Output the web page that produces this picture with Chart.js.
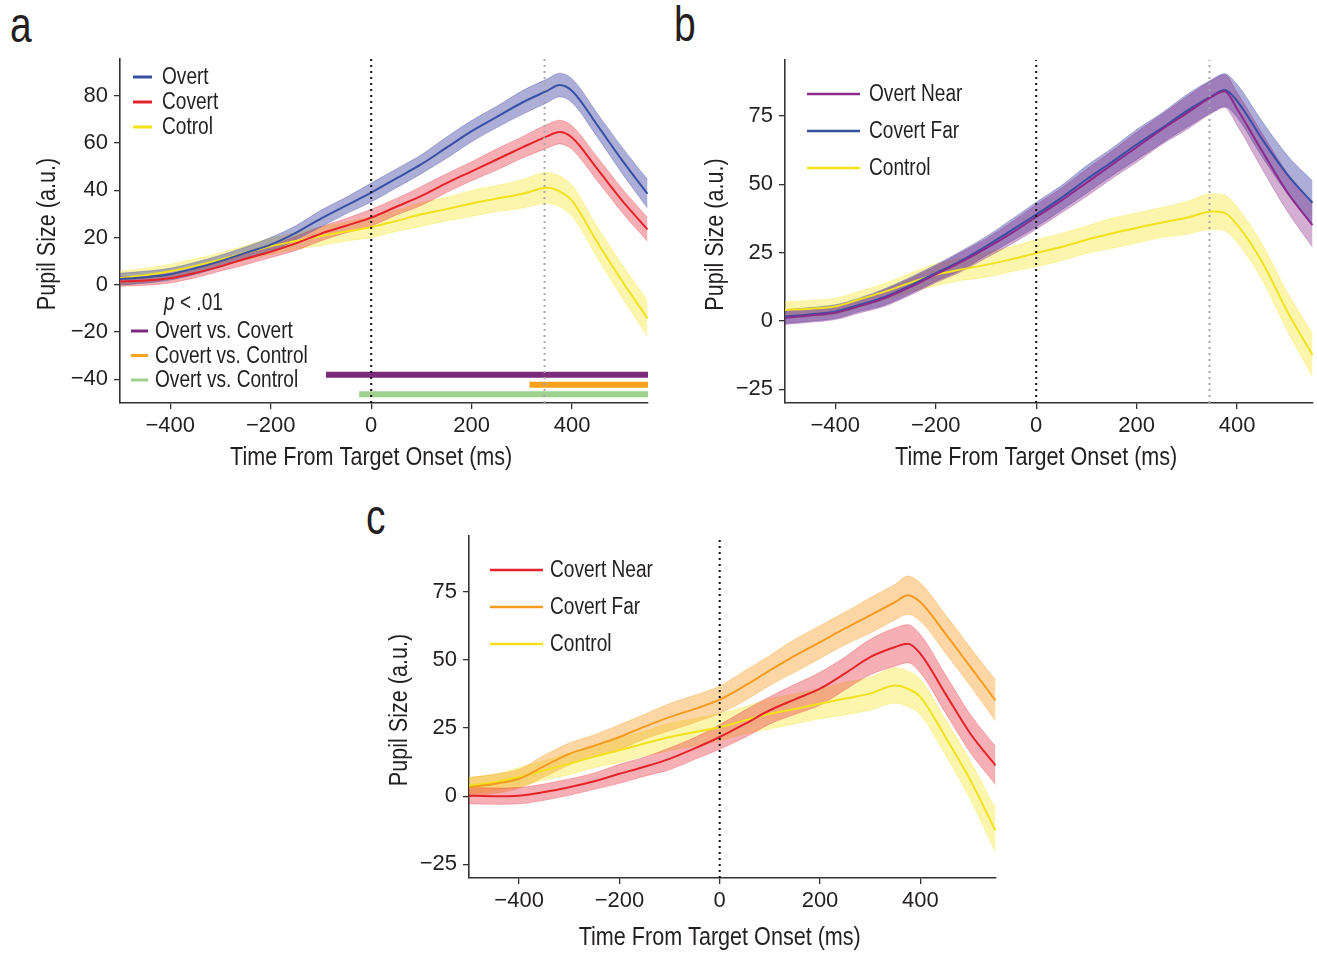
<!DOCTYPE html>
<html>
<head>
<meta charset="utf-8">
<script src="https://cdn.jsdelivr.net/npm/chart.js@4.4.1/dist/chart.umd.min.js"></script>
<style>
  body { margin: 0; background: #fff; }
  #fig { position: relative; width: 1317px; height: 954px; overflow: hidden; }
  canvas { position: absolute; }
  .tag { position: absolute; font: 50px 'Liberation Sans', Arial, sans-serif; line-height: 50px; color: #231f20;
         transform: scaleX(0.78); transform-origin: left top; }
</style>
</head>
<body>
<div id="fig">
  <div class="tag" style="left:10px;top:0px">a</div>
  <div class="tag" style="left:674px;top:-1px">b</div>
  <div class="tag" style="left:366px;top:492px">c</div>
  <canvas id="chartA" width="660" height="480" style="left:0;top:0"></canvas>
  <canvas id="chartB" width="657" height="480" style="left:660px;top:0"></canvas>
  <canvas id="chartC" width="670" height="474" style="left:340px;top:480px"></canvas>
</div>
<script>
// time axis (ms from target onset)
const time = [-500, -450, -400, -350, -300, -250, -200, -150, -100, -50, 0, 50, 100, 150, 200, 250, 300, 350, 375, 400, 450, 500, 550];

// panel a
const overtA      = [2.4, 3.2, 4.5, 7, 10, 13.5, 17, 22, 28, 33.5, 39, 45, 51, 58, 65, 71, 77, 82, 84.5, 82, 67.5, 52.5, 38.5];
const overtSemA   = [2.5, 2.5, 2.5, 2.5, 2.5, 2.5, 3, 3, 3.5, 3.5, 4, 4, 4, 4.5, 4.5, 4.5, 5, 5, 5, 5, 5, 5.5, 6];
const covertA     = [1.4, 1.8, 2.8, 5, 7.8, 11, 14, 17.5, 21.6, 25, 28.4, 33, 37.6, 43, 48, 53, 58, 62.8, 64.6, 62.2, 49, 35.5, 23.4];
const covertSemA  = [2, 2, 2, 2, 2, 2.5, 2.5, 3, 3, 3, 3.5, 3.5, 4, 4, 4, 4.5, 4.5, 5, 5, 5, 5, 5, 5];
const controlA    = [2.8, 4, 5.7, 8, 10.6, 13.5, 16.3, 18.5, 20.6, 22.5, 24.4, 27, 29.8, 32, 34.4, 36.5, 38.4, 41, 39.5, 35.5, 18, 1.4, -14.2];
const controlSemA = [3, 3, 3, 3, 3, 3, 3.5, 3.5, 4, 4, 4.5, 4.5, 5, 5, 5.5, 5.5, 6, 6.5, 6.5, 6.5, 6.5, 7, 7.5];

// significance bars (p < .01) in panel a
const sigLabels = ['Overt vs. Covert', 'Covert vs. Control', 'Overt vs. Control'];
const sigStart  = [-90, 315, -24];
const sigEnd    = 551;
const sigLevel  = [-38, -42.3, -46.3];

// panel b
const overtNearB   = [1.2, 2, 3, 5.5, 8.5, 12.5, 17, 21.5, 26.5, 32, 38, 44, 50.5, 57, 63.5, 70, 76, 82, 84, 77.5, 62, 47, 35];
const covertFarB   = [1.6, 2.4, 3.4, 6, 8.9, 13, 17.5, 22, 27.3, 33, 38.9, 45, 51.7, 58, 64.5, 70.5, 76.8, 82.3, 84.4, 80.4, 66.4, 53.5, 43.2];
const farSemB      = [2.5, 2.5, 2.5, 2.5, 3, 3, 3, 3.5, 3.5, 4, 4.5, 4.5, 5, 5, 5.5, 5.5, 6, 6, 6, 6, 6.5, 7, 8];
const controlB     = [4, 4.5, 5.3, 8, 10.8, 14, 16.9, 18.8, 20.5, 22.5, 24.8, 27, 29.7, 32, 34, 36, 37.7, 40, 39.5, 35.2, 21.5, 3.4, -12.5];
const controlSemB  = [3, 3, 3, 3, 3, 3.5, 4, 4, 4.5, 4.5, 5, 5, 5, 5.5, 5.5, 5.5, 6, 6.5, 6.5, 6.5, 6.5, 7, 8];

// panel c
const covertNearC  = [0.2, 0, 0.2, 1.5, 3.3, 5.5, 8.2, 10.8, 13.7, 17.5, 21.7, 26.5, 31.5, 35.5, 39.4, 45, 51, 54.7, 55.9, 52.3, 37.6, 22.9, 11.3];
const nearSemC     = [3, 3, 3, 3, 3, 3, 3.5, 3.5, 4, 4, 4.5, 5, 5, 5.5, 6, 6, 6.5, 7, 7, 7, 7, 7, 7];
const covertFarC   = [3.3, 4.5, 6.4, 11, 15.5, 18.5, 21.7, 25.5, 29, 32, 35.4, 40.5, 46.1, 51.5, 56.5, 61.5, 66.3, 71.2, 73.7, 71.2, 59.6, 47.4, 35.1];
const farSemC      = [3.5, 3.5, 3.5, 4, 4, 4, 4.5, 4.5, 5, 5, 5, 5.5, 5.5, 6, 6, 6, 6.5, 6.5, 7, 7, 7, 7, 7.5];
const controlC     = [3.9, 5, 7, 9.5, 11.9, 14.5, 16.8, 19.3, 21.7, 23.5, 25.3, 27.8, 30.2, 32, 33.9, 35.8, 37.6, 40.6, 39.4, 36.4, 21.7, 5.8, -12.6];
const controlSemC  = [3, 3, 3.5, 3.5, 4, 4, 4.5, 4.5, 5, 5, 5, 5, 5.5, 5.5, 5.5, 6, 6, 6.5, 6.5, 6.5, 6.5, 7, 8];

// axes
const xRange  = [-500, 551];
const xTicks  = [-400, -200, 0, 200, 400];
const yRangeA = [-50, 95.5];
const yTicksA = [-40, -20, 0, 20, 40, 60, 80];
const yRangeBC = [-30, 95.4];
const yTicksBC = [-25, 0, 25, 50, 75];
const onsetTime = 0;
const saccadeTime = 345;
const xTitle = 'Time From Target Onset (ms)';
const yTitle = 'Pupil Size (a.u.)';

const ink = '#231f20';
const family = "'Liberation Sans', Arial, sans-serif";
const squeeze = 0.83; // the figure's type is a condensed sans

const col = {
    overt:   { line: '#3950a2', band: 'rgba(58, 62, 160, 0.42)' },
    covert:  { line: '#e5232b', band: 'rgba(232, 45, 60, 0.38)' },
    control: { line: '#f1e21b', band: 'rgba(246, 232, 60, 0.42)' },
    near:    { line: '#8b2b8c', band: 'rgba(140, 45, 140, 0.38)' },
    far:     { line: '#f59b20', band: 'rgba(247, 160, 40, 0.42)' },
};
const sigColors = ['#7b2a7d', '#f7a11f', '#9fd18d'];

function pts(values) {
    return time.map((t, i) => ({ x: t, y: values[i] }));
}

// upper + lower edge (filled between), then the mean line
function series(mean, sem, c) {
    const smooth = { cubicInterpolationMode: 'monotone', pointRadius: 0 };
    return [
        { ...smooth, data: time.map((t, i) => ({ x: t, y: mean[i] + sem[i] })), fill: '+1',
          backgroundColor: c.band, borderColor: c.band, borderWidth: 0.8, order: 10 },
        { ...smooth, data: time.map((t, i) => ({ x: t, y: mean[i] - sem[i] })), fill: false,
          borderColor: c.band, borderWidth: 0.8, order: 10 },
        { ...smooth, data: pts(mean), fill: false, borderColor: c.line, borderWidth: 2, order: 5 },
    ];
}

function vline(t, yr, color) {
    return { data: [{ x: t, y: yr[0] }, { x: t, y: yr[1] }], borderColor: color, borderWidth: 2,
             borderDash: [2, 4], pointRadius: 0, fill: false, order: 1 };
}

function minusFmt(v) {
    return v < 0 ? '\u2212' + Math.abs(v) : String(v);
}

// draws text narrowed horizontally around its anchor
function narrowText(ctx, text, x, y, align, rotate) {
    ctx.save();
    ctx.translate(x, y);
    if (rotate) ctx.rotate(-Math.PI / 2);
    ctx.scale(squeeze, 1);
    ctx.textAlign = align;
    ctx.fillText(text, 0, 0);
    ctx.restore();
}

// legends and axis titles
function textPlugin(p) {
    return {
        id: 'panelText',
        afterDraw(chart) {
            const { ctx, chartArea, scales: { x } } = chart;
            ctx.save();
            ctx.textBaseline = 'middle';
            ctx.fillStyle = ink;

            ctx.font = '26px ' + family;
            narrowText(ctx, xTitle, x.getPixelForValue(onsetTime), x.top + p.xTitleOffset, 'center');
            narrowText(ctx, yTitle, p.yTitleX, (chartArea.top + chartArea.bottom) / 2 + 3, 'center', true);

            for (const g of p.legends) {
                if (g.header) {
                    ctx.font = 'italic 23px ' + family;
                    narrowText(ctx, 'p', g.header.x, g.header.y, 'left');
                    const w = ctx.measureText('p').width * squeeze;
                    ctx.font = '23px ' + family;
                    narrowText(ctx, ' < .01', g.header.x + w, g.header.y, 'left');
                }
                ctx.font = '23px ' + family;
                g.labels.forEach((label, i) => {
                    const y = g.y + i * g.rowH;
                    ctx.strokeStyle = g.colors[i];
                    ctx.lineWidth = g.lineWidth;
                    ctx.beginPath();
                    ctx.moveTo(g.x, y);
                    ctx.lineTo(g.x + g.lineLen, y);
                    ctx.stroke();
                    narrowText(ctx, label, g.x + g.lineLen + g.gap, y + 1, 'left');
                });
            }
            ctx.restore();
        }
    };
}

function makePanel(id, p) {
    const axisLine = { display: true, color: '#333', width: 1.6 };
    const tickMarks = { drawOnChartArea: false, drawTicks: true, tickLength: 6, color: '#333', lineWidth: 1.3 };
    return new Chart(document.getElementById(id).getContext('2d'), {
        type: 'line',
        data: { datasets: p.datasets },
        options: {
            responsive: false,
            animation: false,
            layout: { padding: { left: 0, top: p.top, right: p.right, bottom: 0 } },
            plugins: { legend: { display: false }, tooltip: { enabled: false } },
            scales: {
                x: {
                    type: 'linear',
                    min: xRange[0],
                    max: xRange[1],
                    afterBuildTicks: s => { s.ticks = xTicks.map(v => ({ value: v })); },
                    afterFit: s => { s.height = p.xHeight; },
                    grid: tickMarks,
                    border: axisLine,
                    ticks: { color: ink, font: { family: family, size: 22 }, padding: 4, maxRotation: 0, callback: minusFmt },
                },
                y: {
                    type: 'linear',
                    min: p.yRange[0],
                    max: p.yRange[1],
                    afterBuildTicks: s => { s.ticks = p.yTicks.map(v => ({ value: v })); },
                    afterFit: s => { s.width = p.yWidth; },
                    grid: tickMarks,
                    border: axisLine,
                    ticks: { color: ink, font: { family: family, size: 22 }, padding: 6, callback: minusFmt },
                },
            },
        },
        plugins: [textPlugin(p)],
    });
}

// panel a
const sigSets = sigLabels.map((l, i) => ({
    data: [{ x: sigStart[i], y: sigLevel[i] }, { x: sigEnd, y: sigLevel[i] }],
    borderColor: sigColors[i], borderWidth: 6, borderCapStyle: 'butt', pointRadius: 0, fill: false, order: 2,
}));

makePanel('chartA', {
    top: 59, right: 12, xHeight: 77, yWidth: 120, yTitleX: 48, xTitleOffset: 55,
    yRange: yRangeA, yTicks: yTicksA,
    datasets: [
        ...series(overtA, overtSemA, col.overt),
        ...series(covertA, covertSemA, col.covert),
        ...series(controlA, controlSemA, col.control),
        ...sigSets,
        vline(onsetTime, yRangeA, '#111'),
        vline(saccadeTime, yRangeA, '#a8a8a8'),
    ],
    legends: [
        { x: 133, y: 77, rowH: 25, lineLen: 19, gap: 10, lineWidth: 3,
          labels: ['Overt', 'Covert', 'Cotrol'], colors: [col.overt.line, col.covert.line, col.control.line] },
        { header: { x: 164, y: 304 }, x: 131, y: 331, rowH: 24.5, lineLen: 17, gap: 7, lineWidth: 3,
          labels: sigLabels, colors: sigColors },
    ],
});

// panel b
makePanel('chartB', {
    top: 60, right: 4, xHeight: 77, yWidth: 125, yTitleX: 56, xTitleOffset: 55,
    yRange: yRangeBC, yTicks: yTicksBC,
    datasets: [
        ...series(overtNearB, farSemB, col.near),
        ...series(covertFarB, farSemB, col.overt),
        ...series(controlB, controlSemB, col.control),
        vline(onsetTime, yRangeBC, '#111'),
        vline(saccadeTime, yRangeBC, '#a8a8a8'),
    ],
    legends: [
        { x: 147, y: 94, rowH: 37, lineLen: 53, gap: 9, lineWidth: 2.5,
          labels: ['Overt Near', 'Covert Far', 'Control'], colors: [col.near.line, col.overt.line, col.control.line] },
    ],
});

// panel c
makePanel('chartC', {
    top: 56, right: 14, xHeight: 76, yWidth: 129, yTitleX: 60, xTitleOffset: 60,
    yRange: yRangeBC, yTicks: yTicksBC,
    datasets: [
        ...series(covertNearC, nearSemC, col.covert),
        ...series(covertFarC, farSemC, col.far),
        ...series(controlC, controlSemC, col.control),
        vline(onsetTime, yRangeBC, '#111'),
    ],
    legends: [
        { x: 150, y: 90, rowH: 37, lineLen: 53, gap: 7, lineWidth: 2.5,
          labels: ['Covert Near', 'Covert Far', 'Control'], colors: [col.covert.line, col.far.line, col.control.line] },
    ],
});
</script>
</body>
</html>
